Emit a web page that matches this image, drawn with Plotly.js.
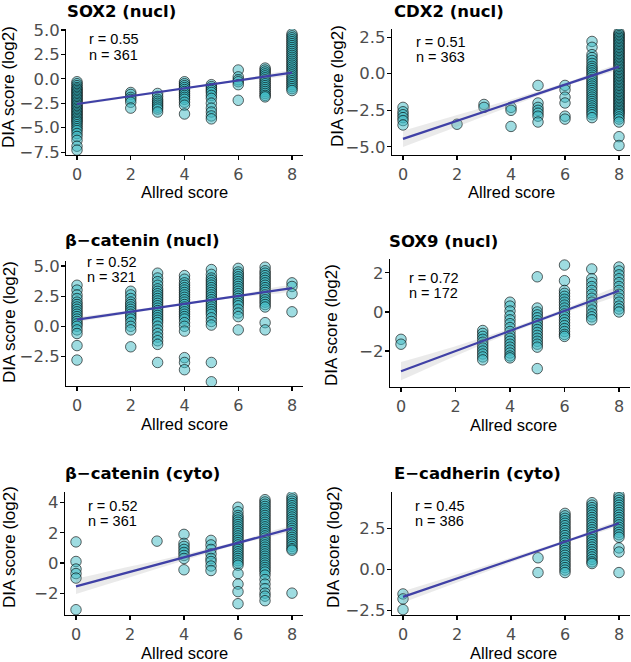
<!DOCTYPE html>
<html>
<head>
<meta charset="utf-8">
<script src="https://cdn.plot.ly/plotly-3.0.1.min.js"></script>
<style>html,body{margin:0;padding:0;background:#fff;}#chart{width:631px;height:662px;}</style>
</head>
<body>
<div id="chart"></div>
<script>
// ---------------- DATA ----------------
const panelTitles = ["SOX2 (nucl)", "CDX2 (nucl)", "\u03b2\u2212catenin (nucl)", "SOX9 (nucl)", "\u03b2\u2212catenin (cyto)", "E\u2212cadherin (cyto)"];
const rLabels = ["r = 0.55", "r = 0.51", "r = 0.52", "r = 0.72", "r = 0.52", "r = 0.45"];
const nLabels = ["n = 361", "n = 363", "n = 321", "n = 172", "n = 361", "n = 386"];
const xAxisTitle = "Allred score";
const yAxisTitle = "DIA score (log2)";
const xTickVals = [0, 2, 4, 6, 8];
const xTickText = ["0", "2", "4", "6", "8"];

// SOX2 (nucl)
const sox2Allred = [0, 2, 3, 4, 5, 6, 7, 8];
const sox2Dia = [
  [-0.3,-0.5,-0.7,-0.9,-1.05,-1.2,-1.35,-1.5,-1.65,-1.8,-1.95,-2.1,-2.25,-2.4,-2.55,-2.7,-2.85,-3.0,-3.15,-3.3,-3.45,-3.6,-3.75,-3.9,-4.05,-4.2,-4.35,-4.5,-4.7,-4.9,-5.1,-5.3,-5.6,-5.9,-6.3,-6.9,-7.3],
  [-1.4,-1.6,-1.9,-2.1,-2.4,-3.0],
  [-1.5,-1.8,-2.1,-2.3,-2.5,-2.7,-2.9,-3.1,-3.4],
  [-0.3,-0.5,-0.7,-0.9,-1.1,-1.3,-1.5,-1.7,-1.9,-2.1,-2.4,-2.7,-3.6],
  [-0.6,-0.8,-1.0,-1.2,-1.4,-1.7,-2.0,-2.5,-3.0,-3.4,-3.8,-4.1],
  [0.9,0.2,-0.1,-0.3,-0.6,-2.2],
  [1.1,0.9,0.7,0.5,0.3,0.1,-0.1,-0.3,-0.5,-0.7,-0.9,-1.1,-1.3,-1.5,-1.7,-1.85],
  [4.6,4.4,4.2,4.0,3.8,3.6,3.4,3.2,3.0,2.8,2.6,2.4,2.2,2.0,1.8,1.6,1.4,1.2,1.0,0.8,0.6,0.4,0.2,0.0,-0.2,-0.4,-0.6,-0.8,-1.0,-1.2]
];
const sox2Fit = [-2.58, 0.63];
const sox2BandLo = [-2.75, -1.9, -1.06, -0.26, 0.5];
const sox2BandHi = [-2.41, -1.66, -0.88, -0.08, 0.76];
const sox2YTicks = [-7.5, -5, -2.5, 0, 2.5, 5];
const sox2YText = ["\u22127.5", "\u22125.0", "\u22122.5", "0.0", "2.5", "5.0"];

// CDX2 (nucl)
const cdx2Allred = [0, 2, 3, 4, 5, 6, 7, 8];
const cdx2Dia = [
  [-2.3,-2.6,-2.8,-3.0,-3.2,-3.5],
  [-3.45],
  [-2.1,-2.3],
  [-2.3,-2.5,-3.6],
  [-0.8,-2.0,-2.3,-2.5,-2.7,-2.9,-3.3],
  [-0.8,-1.1,-1.6,-2.0,-2.9,-3.1],
  [2.2,1.8,1.3,1.1,0.9,0.7,0.5,0.35,0.2,0.05,-0.1,-0.25,-0.4,-0.55,-0.7,-0.85,-1.0,-1.15,-1.3,-1.45,-1.6,-1.75,-1.9,-2.05,-2.2,-2.35,-2.5,-2.65,-2.8,-3.0],
  [2.8,2.7,2.6,2.5,2.4,2.3,2.2,2.1,2.0,1.9,1.8,1.7,1.6,1.5,1.4,1.3,1.2,1.1,1.0,0.9,0.8,0.7,0.6,0.5,0.4,0.3,0.2,0.1,0.0,-0.1,-0.2,-0.3,-0.4,-0.5,-0.6,-0.7,-0.8,-0.9,-1.0,-1.1,-1.2,-1.3,-1.4,-1.5,-1.6,-1.7,-1.8,-1.9,-2.0,-2.1,-2.2,-2.3,-2.4,-2.5,-2.6,-2.7,-2.8,-2.95,-3.1,-3.3,-4.3,-4.9]
];
const cdx2Fit = [-4.45, 0.48];
const cdx2BandLo = [-5.0, -3.62, -2.22, -0.86, 0.38];
const cdx2BandHi = [-3.9, -2.82, -1.76, -0.64, 0.58];
const cdx2YTicks = [-5, -2.5, 0, 2.5];
const cdx2YText = ["\u22125.0", "\u22122.5", "0.0", "2.5"];

// beta-catenin (nucl)
const bcatNAllred = [0, 2, 3, 4, 5, 6, 7, 8];
const bcatNDia = [
  [3.4,3.0,2.6,2.3,2.0,1.8,1.6,1.4,1.2,1.0,0.8,0.6,0.4,0.2,0.0,-0.3,-0.6,-1.6,-2.8],
  [2.9,2.6,2.3,2.0,1.8,1.6,1.4,1.2,1.0,0.8,0.6,0.3,0.0,-0.3,-1.7],
  [4.4,4.0,3.7,3.4,3.1,2.9,2.7,2.5,2.3,2.1,1.9,1.7,1.5,1.3,1.1,0.9,0.7,0.5,0.3,0.0,-0.3,-0.6,-0.9,-1.2,-1.5,-3.0],
  [4.2,3.9,3.6,3.4,3.2,3.0,2.8,2.6,2.4,2.2,2.0,1.8,1.6,1.4,1.2,1.0,0.8,0.6,0.3,0.0,-0.4,-2.6,-3.0,-3.6],
  [4.7,4.3,4.0,3.8,3.6,3.4,3.2,3.0,2.8,2.6,2.4,2.2,2.0,1.8,1.6,1.4,1.2,1.0,0.7,0.4,0.1,-3.0,-4.6],
  [4.8,4.5,4.3,4.1,3.9,3.7,3.5,3.3,3.1,2.9,2.7,2.5,2.3,2.1,1.9,1.7,1.4,1.1,0.8,-0.3],
  [4.9,4.6,4.4,4.2,4.0,3.8,3.6,3.4,3.2,3.0,2.8,2.6,2.4,2.2,2.0,1.8,1.6,0.3,-0.3],
  [3.6,3.3,2.7,1.2]
];
const bcatNFit = [0.55, 3.16];
const bcatNBandLo = [0.35, 1.08, 1.78, 2.41, 3.0];
const bcatNBandHi = [0.75, 1.32, 1.94, 2.61, 3.32];
const bcatNYTicks = [-2.5, 0, 2.5, 5];
const bcatNYText = ["\u22122.5", "0.0", "2.5", "5.0"];

// SOX9 (nucl)
const sox9Allred = [0, 3, 4, 5, 6, 7, 8];
const sox9Dia = [
  [-1.4,-1.65],
  [-0.95,-1.1,-1.25,-1.4,-1.55,-1.7,-1.85,-2.0,-2.15,-2.3,-2.45],
  [0.5,0.3,0.05,-0.2,-0.4,-0.6,-0.8,-1.0,-1.2,-1.35,-1.5,-1.65,-1.8,-1.95,-2.1,-2.25,-2.35],
  [1.8,0.2,0.0,-0.15,-0.3,-0.45,-0.6,-0.75,-0.9,-1.05,-1.2,-1.35,-1.5,-1.65,-1.8,-2.9],
  [2.4,1.6,1.1,0.95,0.8,0.65,0.5,0.35,0.2,0.05,-0.1,-0.25,-0.4,-0.55,-0.7,-0.85,-1.0,-1.15,-1.25],
  [2.2,1.7,1.5,1.3,1.1,0.9,0.7,0.5,0.3,0.1,-0.1,-0.25,-0.4],
  [2.3,2.1,1.9,1.7,1.5,1.3,1.1,0.9,0.7,0.5,0.3,0.15,0.0]
];
const sox9Fit = [-3.03, 1.09];
const sox9BandLo = [-3.5, -2.25, -1.09, -0.04, 0.94];
const sox9BandHi = [-2.56, -1.75, -0.85, 0.16, 1.24];
const sox9YTicks = [-2, 0, 2];
const sox9YText = ["\u22122", "0", "2"];

// beta-catenin (cyto)
const bcatCAllred = [0, 3, 4, 5, 6, 7, 8];
const bcatCDia = [
  [1.4,0.1,-0.4,-0.7,-1.0,-3.1],
  [1.45],
  [1.9,1.3,1.1,0.9,0.7,0.5,0.3,-0.45],
  [1.5,1.2,0.9,0.6,0.3,0.1,-0.2,-0.5],
  [3.7,3.4,3.15,3.0,2.85,2.7,2.55,2.4,2.25,2.1,1.95,1.8,1.65,1.5,1.35,1.2,1.05,0.9,0.75,0.6,0.45,0.3,0.15,0.0,-0.15,-0.7,-1.4,-1.9,-2.7],
  [4.2,4.05,3.9,3.75,3.6,3.45,3.3,3.15,3.0,2.85,2.7,2.55,2.4,2.25,2.1,1.95,1.8,1.65,1.5,1.35,1.2,1.05,0.9,0.75,0.6,0.45,0.3,0.15,0.0,-0.15,-0.3,-0.45,-0.6,-0.8,-1.1,-1.4,-1.7,-2.0,-2.2,-2.5],
  [4.4,4.25,4.1,3.95,3.8,3.65,3.5,3.35,3.2,3.05,2.9,2.75,2.6,2.45,2.3,2.15,2.0,1.85,1.7,1.55,1.4,1.25,1.1,0.95,0.85,-2.0]
];
const bcatCFit = [-1.55, 2.3];
const bcatCBandLo = [-2.05, -0.94, 0.17, 1.24, 2.2];
const bcatCBandHi = [-1.05, -0.24, 0.57, 1.44, 2.4];
const bcatCYTicks = [-2, 0, 2, 4];
const bcatCYText = ["\u22122", "0", "2", "4"];

// E-cadherin (cyto)
const ecadAllred = [0, 5, 6, 7, 8];
const ecadDia = [
  [-1.5,-1.8,-2.45],
  [0.7,-0.2],
  [3.4,3.25,3.1,2.95,2.8,2.65,2.5,2.35,2.2,2.05,1.9,1.75,1.6,1.45,1.3,1.15,1.0,0.85,0.7,0.55,0.4,0.25,0.1,-0.05,-0.2],
  [4.05,3.9,3.75,3.6,3.45,3.3,3.15,3.0,2.85,2.7,2.55,2.4,2.25,2.1,1.95,1.8,1.65,1.5,1.35,1.2,1.05,0.9,0.75,0.6,0.45,0.35],
  [4.5,4.35,4.2,4.05,3.9,3.75,3.6,3.45,3.3,3.15,3.0,2.85,2.7,2.55,2.4,2.25,2.1,1.95,1.3,1.05,-0.2]
];
const ecadFit = [-1.68, 2.8];
const ecadBandLo = [-2.03, -0.81, 0.41, 1.6, 2.72];
const ecadBandHi = [-1.33, -0.31, 0.71, 1.76, 2.88];
const ecadYTicks = [-2.5, 0, 2.5];
const ecadYText = ["\u22122.5", "0.0", "2.5"];

const fitX = [0, 8];
const bandX = [0, 2, 4, 6, 8];

// ---------------- LAYOUT / STYLE ----------------
const W = 631, H = 662;
const px = v => v / W;
const py = v => 1 - v / H;

const panels = [
  {allred: sox2Allred, dia: sox2Dia, fit: sox2Fit, lo: sox2BandLo, hi: sox2BandHi, yt: sox2YTicks, ytt: sox2YText,
   box: {l: 66.25, r: 302.75, t: 29, b: 155}, yr: [-7.8, 5.1],
   title: {x: 65, y: 12}, ann: {x: 87, y1: 39, y2: 55}, ytitle: {x: 9, y: 87}, xtitle: {x: 184, y: 192}},
  {allred: cdx2Allred, dia: cdx2Dia, fit: cdx2Fit, lo: cdx2BandLo, hi: cdx2BandHi, yt: cdx2YTicks, ytt: cdx2YText,
   box: {l: 392.2, r: 629.8, t: 29, b: 155}, yr: [-5.55, 3.05],
   title: {x: 392, y: 12}, ann: {x: 414, y1: 42, y2: 57}, ytitle: {x: 337, y: 86}, xtitle: {x: 511, y: 192}},
  {allred: bcatNAllred, dia: bcatNDia, fit: bcatNFit, lo: bcatNBandLo, hi: bcatNBandHi, yt: bcatNYTicks, ytt: bcatNYText,
   box: {l: 66.25, r: 302.75, t: 261, b: 386}, yr: [-4.95, 5.41],
   title: {x: 63, y: 240}, ann: {x: 85, y1: 262, y2: 277}, ytitle: {x: 9, y: 322}, xtitle: {x: 184, y: 424}},
  {allred: sox9Allred, dia: sox9Dia, fit: sox9Fit, lo: sox9BandLo, hi: sox9BandHi, yt: sox9YTicks, ytt: sox9YText,
   box: {l: 390.1, r: 629.9, t: 259, b: 387}, yr: [-3.84, 2.71],
   title: {x: 387, y: 242}, ann: {x: 407, y1: 278, y2: 293}, ytitle: {x: 331, y: 325}, xtitle: {x: 513, y: 425}},
  {allred: bcatCAllred, dia: bcatCDia, fit: bcatCFit, lo: bcatCBandLo, hi: bcatCBandHi, yt: bcatCYTicks, ytt: bcatCYText,
   box: {l: 65.2, r: 302.8, t: 492, b: 615}, yr: [-3.45, 4.71],
   title: {x: 63, y: 473}, ann: {x: 86, y1: 506, y2: 521}, ytitle: {x: 9, y: 547}, xtitle: {x: 184, y: 653}},
  {allred: ecadAllred, dia: ecadDia, fit: ecadFit, lo: ecadBandLo, hi: ecadBandHi, yt: ecadYTicks, ytt: ecadYText,
   box: {l: 392.2, r: 629.8, t: 492, b: 615}, yr: [-2.78, 4.7],
   title: {x: 392, y: 473}, ann: {x: 413, y1: 506, y2: 521}, ytitle: {x: 333, y: 547}, xtitle: {x: 513, y: 653}}
];

const FONT = "Liberation Sans, Arial, Helvetica, sans-serif";
const TICKFONT = "DejaVu Sans, Liberation Sans, sans-serif";
const TITLEFONT = "DejaVu Sans, Liberation Sans, sans-serif";
const pointFill = "rgba(62,186,195,0.5)";
const lineColor = "#3f40a6";

const traces = [];
const annotations = [];
const layout = {
  width: W, height: H,
  margin: {l: 0, r: 0, t: 0, b: 0, pad: 0},
  paper_bgcolor: "#ffffff", plot_bgcolor: "#ffffff",
  showlegend: false,
  font: {family: FONT, color: "#000"},
  annotations: annotations
};

panels.forEach((p, i) => {
  const k = i === 0 ? "" : String(i + 1);
  const xa = "x" + k, ya = "y" + k;

  layout["xaxis" + k] = {
    domain: [px(p.box.l), px(p.box.r)], range: [-0.4, 8.4], anchor: ya,
    showline: true, linecolor: "#000", linewidth: 1.3, mirror: false,
    ticks: "outside", ticklen: 4, tickwidth: 1.1, tickcolor: "#000",
    tickvals: xTickVals, ticktext: xTickText, ticklabelstandoff: 0,
    tickfont: {family: TICKFONT, size: 16, color: "#4d4d4d"},
    showgrid: false, zeroline: false, fixedrange: true
  };
  layout["yaxis" + k] = {
    domain: [py(p.box.b), py(p.box.t)], range: p.yr, anchor: xa,
    showline: true, linecolor: "#000", linewidth: 1.3, mirror: false,
    ticks: "outside", ticklen: 4, tickwidth: 1.1, tickcolor: "#000",
    tickvals: p.yt, ticktext: p.ytt, ticklabelstandoff: -2,
    tickfont: {family: TICKFONT, size: 16.5, color: "#4d4d4d"},
    showgrid: false, zeroline: false, fixedrange: true
  };

  // points
  const xs = [], ys = [];
  p.allred.forEach((a, j) => { p.dia[j].forEach(v => { xs.push(a); ys.push(v); }); });
  traces.push({
    type: "scatter", mode: "markers", x: xs, y: ys, xaxis: xa, yaxis: ya,
    marker: {size: 10.5, color: pointFill, line: {color: "rgba(0,0,0,0.8)", width: 0.75}},
    hoverinfo: "skip"
  });
  // confidence band
  traces.push({
    type: "scatter", mode: "lines", xaxis: xa, yaxis: ya,
    x: bandX.concat(bandX.slice().reverse()),
    y: p.hi.concat(p.lo.slice().reverse()),
    fill: "toself", fillcolor: "rgba(160,160,160,0.22)", line: {width: 0, shape: "spline"},
    hoverinfo: "skip"
  });
  // fit line
  traces.push({
    type: "scatter", mode: "lines", x: fitX, y: p.fit, xaxis: xa, yaxis: ya,
    line: {color: lineColor, width: 2.2}, hoverinfo: "skip"
  });

  // panel title
  annotations.push({text: "<b>" + panelTitles[i] + "</b>", xref: "paper", yref: "paper",
    x: px(p.title.x), y: py(p.title.y), xanchor: "left", yanchor: "middle", showarrow: false,
    font: {family: TITLEFONT, size: 16.5, color: "#000"}});
  // r and n
  annotations.push({text: rLabels[i], xref: "paper", yref: "paper",
    x: px(p.ann.x), y: py(p.ann.y1), xanchor: "left", yanchor: "middle", showarrow: false,
    font: {family: FONT, size: 14.5, color: "#000"}});
  annotations.push({text: nLabels[i], xref: "paper", yref: "paper",
    x: px(p.ann.x), y: py(p.ann.y2), xanchor: "left", yanchor: "middle", showarrow: false,
    font: {family: FONT, size: 14.5, color: "#000"}});
  // axis titles
  annotations.push({text: xAxisTitle, xref: "paper", yref: "paper",
    x: px(p.xtitle.x), y: py(p.xtitle.y), xanchor: "center", yanchor: "middle", showarrow: false,
    font: {family: FONT, size: 16.5, color: "#000"}});
  annotations.push({text: yAxisTitle, xref: "paper", yref: "paper", textangle: -90,
    x: px(p.ytitle.x), y: py(p.ytitle.y), xanchor: "center", yanchor: "middle", showarrow: false,
    font: {family: FONT, size: 17, color: "#000"}});
});

Plotly.newPlot("chart", traces, layout, {staticPlot: true, displayModeBar: false});
</script>
</body>
</html>
